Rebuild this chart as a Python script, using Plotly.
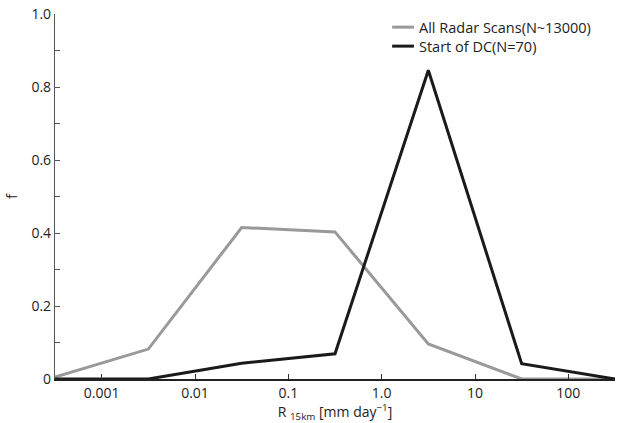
import plotly.graph_objects as go

bin_centers = [10**-3.5, 10**-2.5, 10**-1.5, 10**-0.5, 10**0.5, 10**1.5, 10**2.5]
all_scans = [0.005, 0.082, 0.415, 0.403, 0.096, 0.0, 0.0]
start_dc = [0.0, 0.0, 0.043, 0.069, 0.846, 0.042, 0.0]
x_tickvals = [0.001, 0.01, 0.1, 1, 10, 100]
x_ticktext = ["0.001", "0.01", "0.1", "1.0", "10", "100"]
y_tickvals = [0, 0.2, 0.4, 0.6, 0.8, 1.0]
y_ticktext = ["0", "0.2", "0.4", "0.6", "0.8", "1.0"]
series_names = ["All Radar Scans(N~13000)", "Start of DC(N=70)"]
series_colors = ["#999999", "#1a1a1a"]

font = "Open Sans, Liberation Sans, sans-serif"

fig = go.Figure()
for vals, name, col in zip([all_scans, start_dc], series_names, series_colors):
    fig.add_trace(go.Scatter(x=bin_centers, y=vals, mode="lines", name=name,
                             line=dict(color=col, width=3), showlegend=False))

# manual legend (compact, like the reference)
leg_y = [0.964, 0.912]
for yy, name, col in zip(leg_y, series_names, series_colors):
    fig.add_shape(type="line", xref="paper", yref="paper",
                  x0=0.602, x1=0.641, y0=yy, y1=yy,
                  line=dict(color=col, width=3))
    fig.add_annotation(xref="paper", yref="paper", x=0.647, y=yy, text=name,
                       showarrow=False, xanchor="left", yanchor="middle",
                       font=dict(size=14.5, color="#222222"))

fig.update_layout(
    width=617, height=423,
    margin=dict(l=55, r=2, t=14, b=44),
    paper_bgcolor="white", plot_bgcolor="white",
    font=dict(family=font, size=14, color="#222222"),
    showlegend=False,
    xaxis=dict(type="log", range=[-3.5, 2.5], tickvals=x_tickvals, ticktext=x_ticktext,
               ticks="inside", ticklen=5, tickcolor="#333333",
               showline=True, linecolor="#222222", linewidth=1.5,
               showgrid=False, zeroline=False,
               title=dict(text="R <sub>15km</sub> [mm day<sup>−1</sup>]", standoff=2,
                          font=dict(size=14))),
    yaxis=dict(range=[0, 1.0], tickvals=y_tickvals, ticktext=y_ticktext,
               ticks="inside", ticklen=5, tickcolor="#555555",
               minor=dict(dtick=0.1, ticks="inside", ticklen=5, tickcolor="#555555"),
               showline=True, linecolor="#555555", linewidth=1.2,
               showgrid=False, zeroline=False,
               title=dict(text="f", standoff=10, font=dict(size=15))),
)

fig.write_html("out.html")
